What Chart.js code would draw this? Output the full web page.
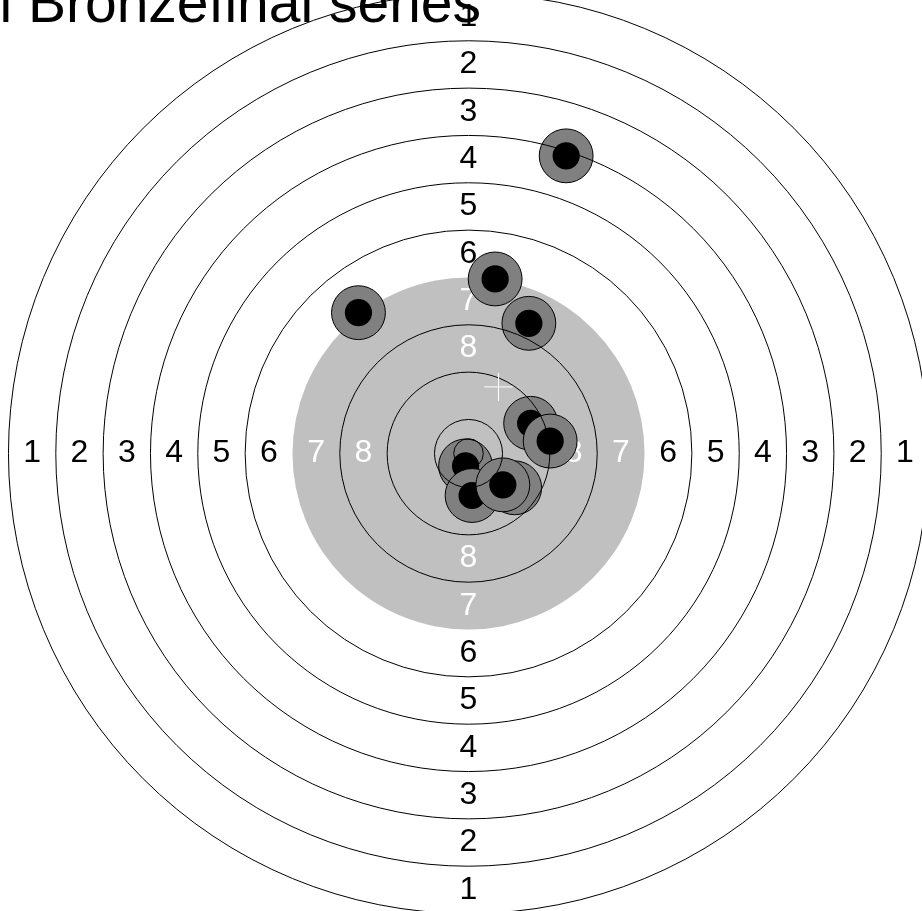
<!DOCTYPE html>
<html>
<head>
<meta charset="utf-8">
<script src="https://cdn.jsdelivr.net/npm/chart.js@4.4.1/dist/chart.umd.min.js"></script>
<style>
  html, body { margin: 0; padding: 0; background: #fff; }
  #wrap { width: 922px; height: 911px; }
</style>
</head>
<body>
<div id="wrap"><canvas id="target"></canvas></div>
<script>
// Air pistol target. Everything is in mm, shots measured from the centre (x right, y up).
const titleText = "Luftpistol Bronzefinal series";
const ringNumbers = [1, 2, 3, 4, 5, 6, 7, 8];
// outer edge of rings 1..10
const ringRadii = [77.75, 69.75, 61.75, 53.75, 45.75, 37.75, 29.75, 21.75, 13.75, 5.75];
const innerTenRadius = 2.5;
const blackRadius = 29.75; // aiming mark = ring 7 and inside

// shots in firing order
const shotX = [16.5, -18.6, 4.5, 10.2, 10.5, 13.8, -0.5, 7.8, 0.6, 5.8];
const shotY = [50.3, 23.8, 29.5, 22.0, 5.1, 2.1, -2.1, -5.8, -7.1, -5.3];
const pelletRadius = 2.3;
const haloRadius = 4.55;
const crossHalf = 2.4;

// visible window of the target
const xMin = -79.18, xMax = 76.64;
const yMin = -77.32, yMax = 76.64;

function mmToPx(chart, r) {
  const x = chart.scales.x;
  return Math.abs(x.getPixelForValue(r) - x.getPixelForValue(0));
}

const datasets = [];
shotX.forEach((sx, i) => {
  const pt = [{ x: sx, y: shotY[i] }];
  // halo first, pellet hole on top; later shots cover earlier ones
  datasets.push({
    data: pt,
    order: -2 * i,
    pointRadius: (c) => mmToPx(c.chart, haloRadius),
    pointHoverRadius: (c) => mmToPx(c.chart, haloRadius),
    backgroundColor: "#808080",
    borderColor: "#000",
    borderWidth: 1,
  });
  datasets.push({
    data: pt,
    order: -2 * i - 1,
    pointRadius: (c) => mmToPx(c.chart, pelletRadius),
    pointHoverRadius: (c) => mmToPx(c.chart, pelletRadius),
    backgroundColor: "#000",
    borderColor: "#000",
    borderWidth: 0,
  });
});

const targetPlugin = {
  id: "target",
  beforeDatasetsDraw(chart) {
    const { ctx, scales: { x, y } } = chart;
    const cx = x.getPixelForValue(0), cy = y.getPixelForValue(0);
    ctx.save();
    ctx.fillStyle = "#c0c0c0";
    ctx.beginPath();
    ctx.arc(cx, cy, mmToPx(chart, blackRadius), 0, 2 * Math.PI);
    ctx.fill();

    ctx.font = "32px 'Liberation Sans', Arial, sans-serif";
    ctx.textAlign = "center";
    ctx.textBaseline = "middle";
    ringNumbers.forEach((n, i) => {
      const r = mmToPx(chart, (ringRadii[i] + ringRadii[i + 1]) / 2);
      ctx.fillStyle = ringRadii[i] <= blackRadius ? "#fff" : "#000";
      [[0, -r], [0, r], [-r, 0], [r, 0]].forEach(([dx, dy]) => ctx.fillText(String(n), cx + dx, cy + dy));
    });
    ctx.restore();
  },
  afterDatasetsDraw(chart) {
    const { ctx, scales: { x, y } } = chart;
    const cx = x.getPixelForValue(0), cy = y.getPixelForValue(0);
    ctx.save();
    ctx.strokeStyle = "#000";
    ctx.lineWidth = 1;
    ringRadii.concat([innerTenRadius]).forEach((r) => {
      if (r === blackRadius) return; // edge of the black has no line
      ctx.beginPath();
      ctx.arc(cx, cy, mmToPx(chart, r), 0, 2 * Math.PI);
      ctx.stroke();
    });

    // mean point of impact
    const mx = shotX.reduce((a, b) => a + b, 0) / shotX.length;
    const my = shotY.reduce((a, b) => a + b, 0) / shotY.length;
    const px = x.getPixelForValue(mx), py = y.getPixelForValue(my);
    const h = mmToPx(chart, crossHalf);
    ctx.strokeStyle = "#fff";
    ctx.beginPath();
    ctx.moveTo(px - h, py); ctx.lineTo(px + h, py);
    ctx.moveTo(px, py - h); ctx.lineTo(px, py + h);
    ctx.stroke();

    ctx.fillStyle = "#000";
    ctx.font = "57px 'Liberation Sans', Arial, sans-serif";
    ctx.textAlign = "right";
    ctx.textBaseline = "alphabetic";
    ctx.fillText(titleText, 481, 22);
    ctx.restore();
  },
};

new Chart(document.getElementById("target"), {
  type: "scatter",
  data: { datasets },
  options: {
    responsive: true,
    maintainAspectRatio: false,
    animation: false,
    events: [],
    layout: { padding: 0 },
    scales: {
      x: { type: "linear", min: xMin, max: xMax, display: false },
      y: { type: "linear", min: yMin, max: yMax, display: false },
    },
    plugins: { legend: { display: false }, tooltip: { enabled: false }, title: { display: false } },
  },
  plugins: [targetPlugin],
});
</script>
</body>
</html>
